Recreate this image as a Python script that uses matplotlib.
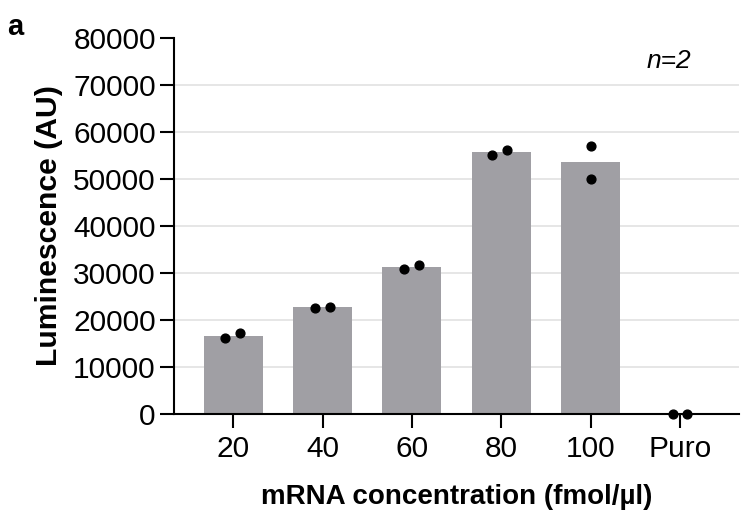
import matplotlib
matplotlib.use("Agg")
import matplotlib.pyplot as plt
import numpy as np

plt.rcParams['font.family'] = ['Liberation Sans', 'DejaVu Sans']

categories = ["20", "40", "60", "80", "100", "Puro"]
bar_means = [16600, 22700, 31300, 55650, 53600, 0]
rep1 = [16100, 22600, 30850, 55000, 57100, 0]
rep2 = [17150, 22800, 31700, 56250, 50050, 0]
rep1_offset = [-0.09, -0.09, -0.09, -0.10, 0.0, -0.08]
rep2_offset = [0.08, 0.08, 0.08, 0.07, 0.0, 0.08]
yticks = [0, 10000, 20000, 30000, 40000, 50000, 60000, 70000, 80000]

fig = plt.figure(figsize=(7.43, 5.11), dpi=100)
ax = fig.add_axes([0.234, 0.19, 0.761, 0.7356])

x = np.arange(len(categories))
ax.bar(x, bar_means, width=0.66, color="#a09fa4", zorder=2)
ax.scatter(x + np.array(rep1_offset), rep1, s=40, color="black", zorder=3, clip_on=False)
ax.scatter(x + np.array(rep2_offset), rep2, s=40, color="black", zorder=3, clip_on=False)

ax.set_xlim(-0.665, 5.665)
ax.set_ylim(0, 80000)
ax.set_yticks(yticks)
ax.set_yticklabels([str(v) for v in yticks])
ax.set_xticks(x)
ax.set_xticklabels(categories)
for v in yticks[1:-1]:
    ax.axhline(v, color="#e2e2e2", lw=1.2, zorder=1)

for s in ["top", "right"]:
    ax.spines[s].set_visible(False)
for s in ["left", "bottom"]:
    ax.spines[s].set_linewidth(1.5)
ax.tick_params(axis="both", width=1.5, length=10, labelsize=21.5, direction="out")
ax.tick_params(axis="x", pad=5)
ax.tick_params(axis="y", pad=3)

ax.set_ylabel("Luminescence (AU)", fontsize=21.7, fontweight="bold", labelpad=7)
ax.set_xlabel("mRNA concentration (fmol/µl)", fontsize=20, fontweight="bold", labelpad=15)

fig.text(0.01, 0.948, "a", fontsize=21, fontweight="bold", va="center")
ax.text(0.876, 0.94, "n=2", transform=ax.transAxes, fontsize=19, style="italic",
        ha="center", va="center")

fig.savefig("out.png", dpi=100)
